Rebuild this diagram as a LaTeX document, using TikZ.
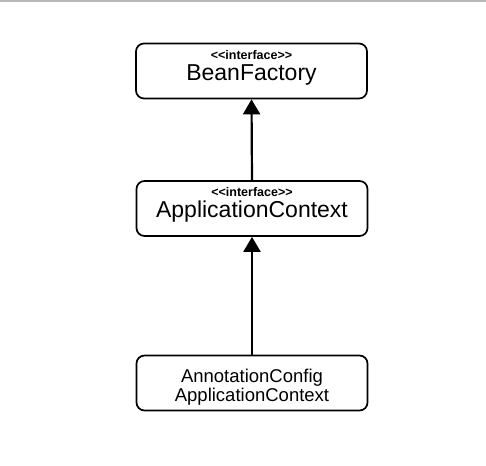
\documentclass[tikz,border=0pt]{standalone}
\usepackage{fontspec}
\setmainfont{Liberation Sans}
\usetikzlibrary{arrows.meta}
\tikzset{
  umlbox/.style={draw=black, line width=1.7pt, rounded corners=8pt, minimum width=231pt, minimum height=55pt, inner sep=0pt},
  stereo/.style={anchor=base, font=\fontsize{12.5}{14}\selectfont\bfseries, inner sep=0pt},
  title/.style={anchor=base, font=\fontsize{23}{26}\selectfont, inner sep=0pt},
  subtitle/.style={anchor=base, font=\fontsize{18.5}{21}\selectfont, inner sep=0pt},
  inherit/.style={line width=2.2pt, -{Triangle[width=17pt,length=15pt]}}
}
\begin{document}
\begin{tikzpicture}[x=1pt,y=-1pt]
\useasboundingbox (0,0) rectangle (486,465);
\draw[gray!55, line width=1.3pt] (0,1) -- (486,1);
% boxes
\node[umlbox] (bf) at (251.5,71) {};
\node[umlbox] (ac) at (252,208.5) {};
\node[umlbox] (acac) at (252,383) {};
% texts
\node[stereo] (bfs) at (251.5,60) {{<}{<}interface{>}{>}};
\node[title] (bft) at (251.5,80.5) {BeanFactory};
\node[stereo] (acs) at (252,196) {{<}{<}interface{>}{>}};
\node[title] (act) at (252,217) {ApplicationContext};
\node[subtitle] (l1) at (252,382) {AnnotationConfig};
\node[subtitle] (l2) at (252,401) {ApplicationContext};
% arrows
\draw[inherit] (ac.north) -- (bf.south);
\draw[inherit] (acac.north) -- (ac.south);
\end{tikzpicture}
\end{document}
